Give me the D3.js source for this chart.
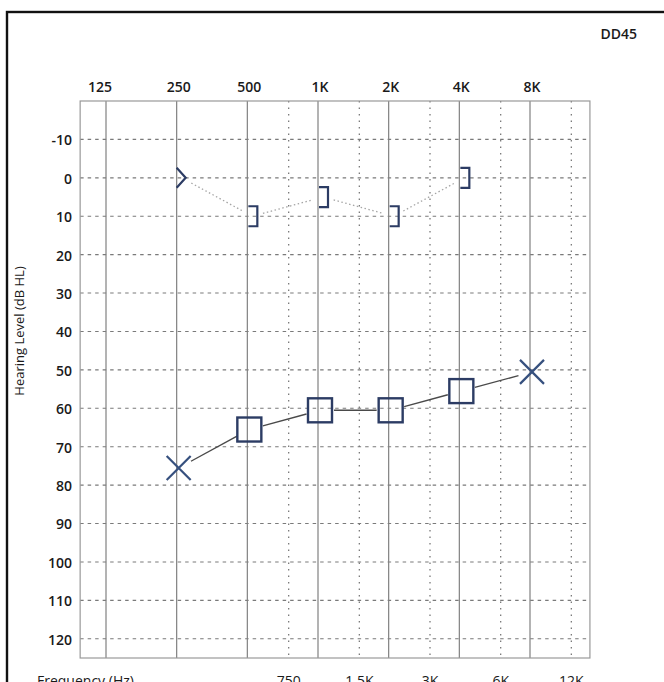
<!DOCTYPE html>
<html>
<head>
<meta charset="utf-8">
<script src="https://cdn.jsdelivr.net/npm/d3@7"></script>
<style>
  body { margin: 0; background: #fff; }
  text { font-family: "Open Sans", "DejaVu Sans", sans-serif; fill: #1a1a1a; }
</style>
</head>
<body>
<div id="chart"></div>
<script>
// 频率刻度
const octaveFreqs = [125, 250, 500, 1000, 2000, 4000, 8000];
const octaveLabels = ["125", "250", "500", "1K", "2K", "4K", "8K"];
const midFreqs = [750, 1500, 3000, 6000, 12000];
const midLabels = ["750", "1.5K", "3K", "6K", "12K"];
const dbTicks = [-10, 0, 10, 20, 30, 40, 50, 60, 70, 80, 90, 100, 110, 120];

// 气导 (air conduction)
const acFreqs = [250, 500, 1000, 2000, 4000, 8000];
const acLevels = [75, 65, 60, 60, 55, 50];
const acSymbols = ["x", "square", "square", "square", "square", "x"];

// 骨导 (bone conduction)
const bcFreqs = [250, 500, 1000, 2000, 4000];
const bcLevels = [0, 10, 5, 10, 0];
const bcSymbols = [">", "]", "]", "]", "]"];

const width = 664, height = 682;

const svg = d3.select("#chart").append("svg")
    .attr("width", width)
    .attr("height", height);

// 外框
svg.append("rect")
    .attr("x", 7).attr("y", 12)
    .attr("width", 720).attr("height", 720)
    .attr("fill", "none")
    .attr("stroke", "#111")
    .attr("stroke-width", 2.4);

const x = d3.scaleLog().domain([125, 8000]).range([106, 530]);
const y = d3.scaleLinear().domain([-20, 125]).range([101, 658]);
const fMin = 97, fMax = 14400;

const plot = svg.append("g");

// 水平虚线
plot.selectAll(".hgrid")
    .data(dbTicks)
    .enter().append("line")
    .attr("x1", x(fMin)).attr("x2", x(fMax))
    .attr("y1", d => y(d)).attr("y2", d => y(d))
    .attr("stroke", "#7a7a7a")
    .attr("stroke-width", 1.1)
    .attr("stroke-dasharray", "3.5,4");

// 倍频程实线
plot.selectAll(".vgrid")
    .data(octaveFreqs)
    .enter().append("line")
    .attr("x1", d => x(d)).attr("x2", d => x(d))
    .attr("y1", y(-20)).attr("y2", y(125))
    .attr("stroke", "#808080")
    .attr("stroke-width", 1.2);

// 半倍频程点线
plot.selectAll(".mgrid")
    .data(midFreqs)
    .enter().append("line")
    .attr("x1", d => x(d)).attr("x2", d => x(d))
    .attr("y1", y(-20)).attr("y2", y(125))
    .attr("stroke", "#7a7a7a")
    .attr("stroke-width", 1.3)
    .attr("stroke-dasharray", "1.5,5");

// 图框
plot.append("rect")
    .attr("x", x(fMin)).attr("y", y(-20))
    .attr("width", x(fMax) - x(fMin))
    .attr("height", y(125) - y(-20))
    .attr("fill", "none")
    .attr("stroke", "#999")
    .attr("stroke-width", 1.2);

// 顶部频率标签
svg.selectAll(".toplab")
    .data(octaveFreqs)
    .enter().append("text")
    .attr("x", (d, i) => x(d) + (i === 0 ? -6 : 2))
    .attr("y", 92)
    .attr("text-anchor", "middle")
    .attr("font-size", 14)
    .attr("font-weight", 600)
    .text((d, i) => octaveLabels[i]);

// 底部频率标签
svg.selectAll(".botlab")
    .data(midFreqs)
    .enter().append("text")
    .attr("x", d => x(d))
    .attr("y", 686)
    .attr("text-anchor", "middle")
    .attr("font-size", 14)
    .text((d, i) => midLabels[i]);

svg.append("text")
    .attr("x", 37).attr("y", 686)
    .attr("font-size", 14)
    .text("Frequency (Hz)");

// y轴标签
svg.selectAll(".ylab")
    .data(dbTicks)
    .enter().append("text")
    .attr("x", 72)
    .attr("y", d => y(d) + 1)
    .attr("dy", "0.35em")
    .attr("text-anchor", "end")
    .attr("font-size", 14)
    .attr("font-weight", 600)
    .text(d => d);

svg.append("text")
    .attr("transform", `translate(24,331) rotate(-90)`)
    .attr("text-anchor", "middle")
    .attr("font-size", 13)
    .attr("fill", "#222")
    .text("Hearing Level (dB HL)");

svg.append("text")
    .attr("x", 637).attr("y", 39)
    .attr("text-anchor", "end")
    .attr("font-size", 14)
    .attr("font-weight", 600)
    .text("DD45");

// 连线（两端留空）
function trimmedSegments(pts, gap) {
    const segs = [];
    for (let i = 0; i < pts.length - 1; i++) {
        const a = pts[i], b = pts[i + 1];
        const dx = b[0] - a[0], dy = b[1] - a[1];
        const len = Math.hypot(dx, dy);
        const ux = dx / len, uy = dy / len;
        segs.push([a[0] + ux * gap, a[1] + uy * gap, b[0] - ux * gap, b[1] - uy * gap]);
    }
    return segs;
}

const bcPts = bcFreqs.map((f, i) => [x(f) + 5, y(bcLevels[i])]);
plot.selectAll(".bcline")
    .data(trimmedSegments(bcPts, 11))
    .enter().append("line")
    .attr("x1", d => d[0]).attr("y1", d => d[1])
    .attr("x2", d => d[2]).attr("y2", d => d[3])
    .attr("stroke", "#a5a5a5")
    .attr("stroke-width", 1.3)
    .attr("stroke-dasharray", "1.5,2.5");

const acPts = acFreqs.map((f, i) => [x(f) + 2, y(acLevels[i]) + 2]);
plot.selectAll(".acline")
    .data(trimmedSegments(acPts, 14))
    .enter().append("line")
    .attr("x1", d => d[0]).attr("y1", d => d[1])
    .attr("x2", d => d[2]).attr("y2", d => d[3])
    .attr("stroke", "#4a4a4a")
    .attr("stroke-width", 1.4);

// 符号
const symColor = "#2c3c64";
acFreqs.forEach((f, i) => {
    const cx = x(f) + 2, cy = y(acLevels[i]) + 2;
    if (acSymbols[i] === "x") {
        plot.append("path")
            .attr("d", `M${cx - 12},${cy - 12}L${cx + 12},${cy + 12}M${cx + 12},${cy - 12}L${cx - 12},${cy + 12}`)
            .attr("stroke", "#36507e")
            .attr("stroke-width", 2.2)
            .attr("fill", "none");
    } else {
        plot.append("rect")
            .attr("x", cx - 12).attr("y", cy - 12)
            .attr("width", 24).attr("height", 24)
            .attr("fill", "none")
            .attr("stroke", symColor)
            .attr("stroke-width", 2.4);
    }
});

bcFreqs.forEach((f, i) => {
    const cx = x(f), cy = y(bcLevels[i]);
    let d;
    if (bcSymbols[i] === ">") {
        d = `M${cx},${cy - 10}L${cx + 9},${cy}L${cx},${cy + 10}`;
    } else {
        d = `M${cx + 1},${cy - 10}H${cx + 10}V${cy + 10}H${cx + 1}`;
    }
    plot.append("path")
        .attr("d", d)
        .attr("fill", "none")
        .attr("stroke", symColor)
        .attr("stroke-width", 2.2);
});
</script>
</body>
</html>
